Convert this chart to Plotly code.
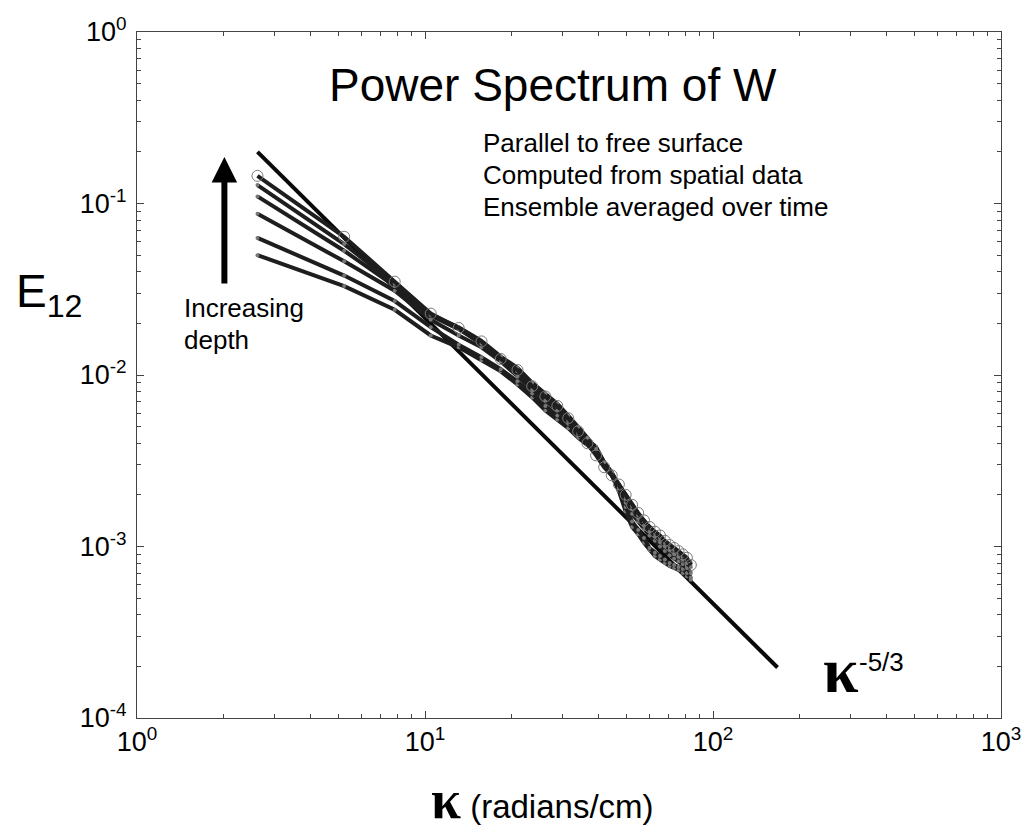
import plotly.graph_objects as go

# ---- data ----
k = [2.62, 5.24, 7.85, 10.47, 13.09, 15.71, 18.33, 20.94, 23.56, 26.18, 28.80, 31.42,
     34.03, 36.65, 39.27, 41.89, 44.51, 47.12, 49.74, 52.36, 54.98, 57.60, 60.21, 62.83,
     65.45, 68.07, 70.69, 73.30, 75.92, 78.54, 81.16, 83.78]

E_a = [0.145, 0.064, 0.035, 0.0228, 0.0188, 0.0157, 0.0124, 0.0107, 0.0086, 0.0075, 0.0066, 0.0056,
       0.0047, 0.0040, 0.0034, 0.0029, 0.0026, 0.0023, 0.0020, 0.00175, 0.00157, 0.00142, 0.0013, 0.00122,
       0.00116, 0.00108, 0.00102, 0.00098, 0.00094, 0.00090, 0.00086, 0.00078]
E_b = [0.128, 0.058, 0.034, 0.0225, 0.019, 0.0158, 0.0128, 0.0110, 0.0090, 0.0078, 0.0068, 0.0058,
       0.0050, 0.0043, 0.0037, 0.0031, 0.0026, 0.0023, 0.0020, 0.00172, 0.00152, 0.0014, 0.0013, 0.0012,
       0.00112, 0.00105, 0.0010, 0.00096, 0.00092, 0.00088, 0.00084, 0.0008]
E_c = [0.110, 0.053, 0.033, 0.0222, 0.0185, 0.0152, 0.0125, 0.0105, 0.0088, 0.0076, 0.0066, 0.0057,
       0.0049, 0.0042, 0.0038, 0.0031, 0.0027, 0.0023, 0.0019, 0.00165, 0.00145, 0.00132, 0.00122, 0.00114,
       0.00106, 0.0010, 0.00095, 0.0009, 0.00087, 0.00084, 0.0008, 0.00076]
E_d = [0.087, 0.046, 0.031, 0.021, 0.017, 0.0145, 0.012, 0.0098, 0.0082, 0.0071, 0.0062, 0.0054,
       0.0046, 0.0040, 0.0036, 0.0030, 0.0026, 0.0022, 0.0018, 0.00155, 0.0014, 0.00126, 0.00116, 0.00108,
       0.0010, 0.00094, 0.00089, 0.00085, 0.00082, 0.00079, 0.00075, 0.0007]
E_e = [0.063, 0.038, 0.027, 0.019, 0.0150, 0.0127, 0.0108, 0.0092, 0.0078, 0.0066, 0.0058, 0.0052,
       0.0045, 0.0040, 0.0036, 0.0031, 0.0027, 0.0022, 0.0017, 0.0014, 0.00125, 0.00112, 0.00098, 0.00092,
       0.00088, 0.00084, 0.0008, 0.00078, 0.00076, 0.00074, 0.0007, 0.00066]
E_f = [0.050, 0.033, 0.024, 0.017, 0.0145, 0.0122, 0.0105, 0.0088, 0.0074, 0.0062, 0.0055, 0.0049,
       0.0043, 0.0039, 0.0035, 0.0030, 0.0026, 0.0021, 0.0016, 0.0013, 0.00118, 0.00105, 0.00095, 0.00088,
       0.00084, 0.0008, 0.00077, 0.00075, 0.00073, 0.0007, 0.00067, 0.00064]

# Kolmogorov -5/3 reference line (end points)
k_ref = [2.62, 167.5]
E_ref = [0.200, 0.000197]

x_tick_vals = [1, 10, 100, 1000]
x_tick_text = ["10<sup>0</sup>", "10<sup>1</sup>", "10<sup>2</sup>", "10<sup>3</sup>"]
y_tick_vals = [1e-4, 1e-3, 1e-2, 1e-1, 1]
y_tick_text = ["10<sup>-4</sup>", "10<sup>-3</sup>", "10<sup>-2</sup>", "10<sup>-1</sup>", "10<sup>0</sup>"]

SANS = "Liberation Sans, Arial, sans-serif"
SERIF = "Liberation Serif, Times New Roman, serif"

fig = go.Figure()

fig.add_trace(go.Scatter(x=k_ref, y=E_ref, mode="lines",
                         line=dict(color="#0a0a0a", width=4), showlegend=False))

for E in [E_f, E_e, E_d, E_c, E_b]:
    fig.add_trace(go.Scatter(x=k, y=E, mode="lines+markers",
                             line=dict(color="#1e1e1e", width=4),
                             marker=dict(size=4, color="#777777"),
                             showlegend=False))

fig.add_trace(go.Scatter(x=k, y=E_a, mode="lines+markers",
                         line=dict(color="#1e1e1e", width=4),
                         marker=dict(size=11, symbol="circle-open", color="#7a7a7a",
                                     line=dict(width=1, color="#7a7a7a")),
                         showlegend=False))

axis_common = dict(type="log", showgrid=False, zeroline=False, showline=True,
                   linecolor="#444444", linewidth=1, mirror="ticks",
                   ticks="inside", ticklen=7, tickwidth=1, tickcolor="#444444",
                   minor=dict(ticks="inside", ticklen=4, tickcolor="#444444", dtick="D1"),
                   tickfont=dict(family=SANS, size=27, color="black"))

fig.update_xaxes(range=[0, 3], tickvals=x_tick_vals, ticktext=x_tick_text, **axis_common)
fig.update_yaxes(range=[-4, 0], tickvals=y_tick_vals, ticktext=y_tick_text,
                 ticklabelstandoff=4, **axis_common)

def px(x):
    return (x - 137) / 870.0

def py(y):
    return (718 - y) / 686.0

ann = []
ann.append(dict(text="Power Spectrum of W", x=px(556), y=py(85), xref="paper", yref="paper",
                showarrow=False, xanchor="center", yanchor="middle",
                font=dict(family=SANS, size=46, color="black")))
for txt, yy in [("Parallel to free surface", 143), ("Computed from spatial data", 175),
                ("Ensemble averaged over time", 207)]:
    ann.append(dict(text=txt, x=px(483), y=py(yy), xref="paper", yref="paper",
                    showarrow=False, xanchor="left", yanchor="middle",
                    font=dict(family=SANS, size=26, color="black")))
ann.append(dict(text="Increasing", x=px(182), y=py(308), xref="paper", yref="paper",
                showarrow=False, xanchor="left", yanchor="middle",
                font=dict(family=SANS, size=26, color="black")))
ann.append(dict(text="depth", x=px(182), y=py(340), xref="paper", yref="paper",
                showarrow=False, xanchor="left", yanchor="middle",
                font=dict(family=SANS, size=26, color="black")))
# arrow
ann.append(dict(text="", x=px(225), y=py(157), xref="paper", yref="paper",
                showarrow=True, ax=0, ay=128, arrowhead=2, arrowsize=0.85,
                arrowwidth=6, arrowcolor="black"))
# E12
ann.append(dict(text="E<sub>12</sub>", x=px(13), y=py(295), xref="paper", yref="paper",
                showarrow=False, xanchor="left", yanchor="middle",
                font=dict(family=SANS, size=46, color="black")))
# x title
ann.append(dict(text='<span style="font-family:Liberation Serif;font-size:54px"><b>κ</b></span> (radians/cm)',
                x=px(545), y=py(832), xref="paper", yref="paper",
                showarrow=False, xanchor="center", yanchor="bottom",
                font=dict(family=SANS, size=33, color="black")))
# kappa^-5/3
ann.append(dict(text="<b>κ</b>", x=px(826), y=py(670), xref="paper", yref="paper",
                showarrow=False, xanchor="left", yanchor="middle",
                font=dict(family=SERIF, size=64, color="black")))
ann.append(dict(text="-5/3", x=px(862), y=py(662), xref="paper", yref="paper",
                showarrow=False, xanchor="left", yanchor="middle",
                font=dict(family=SANS, size=26, color="black")))

fig.update_layout(width=1033, height=832, margin=dict(l=137, r=26, t=32, b=114),
                  paper_bgcolor="white", plot_bgcolor="white", showlegend=False,
                  annotations=ann)

fig.write_html("out.html")
